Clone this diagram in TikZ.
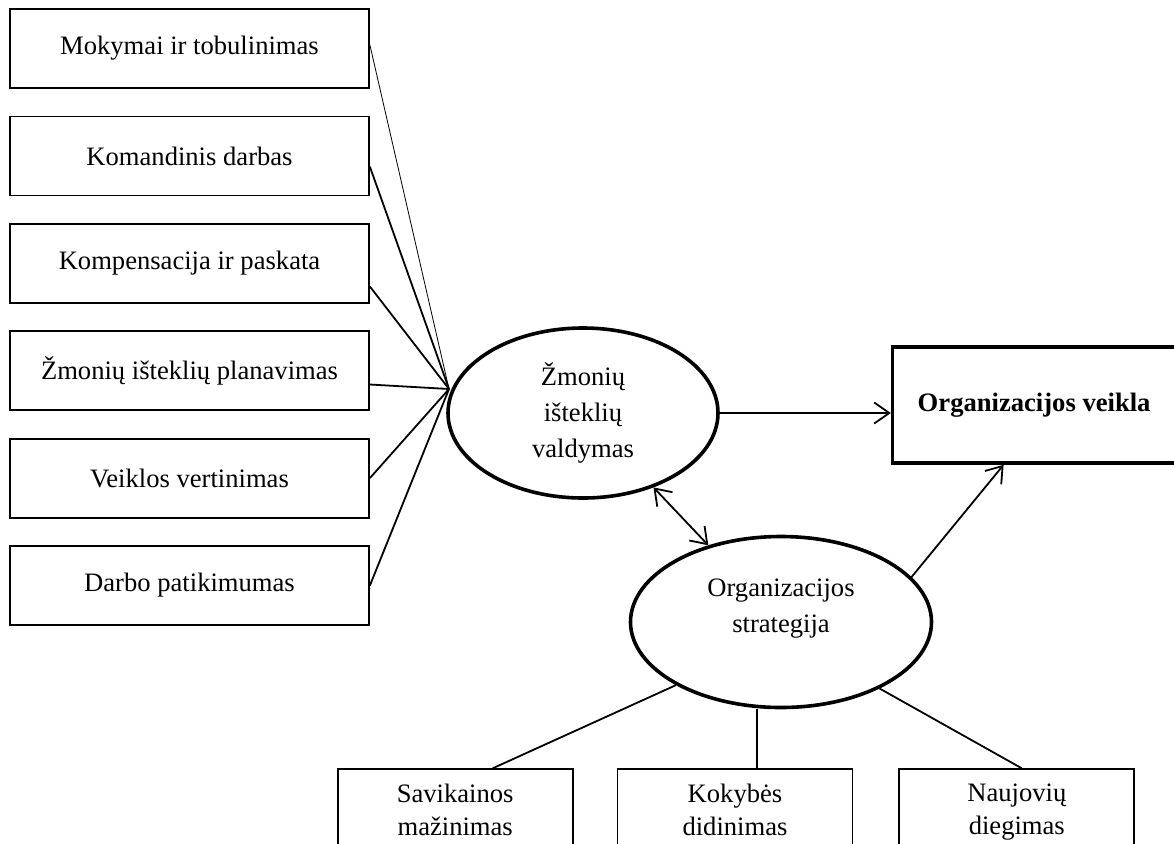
\documentclass[tikz,border=0pt]{standalone}
\usepackage{fontspec}
\setmainfont{Liberation Serif}
\usetikzlibrary{shapes,arrows.meta,positioning,calc}

\begin{document}
\begin{tikzpicture}[
    x=0.5pt, y=-0.5pt,
    node distance=13.3pt and 21.5pt,
    every node/.style={font=\fontsize{13.3}{18}\selectfont},
    factor/.style={rectangle, draw, line width=0.9pt, minimum width=179.5pt, minimum height=39.5pt, inner sep=0pt},
    core/.style={ellipse, draw, line width=1.8pt, minimum width=135pt, minimum height=85pt, align=center, inner sep=0pt},
    result/.style={rectangle, draw, line width=1.8pt, minimum width=141.5pt, minimum height=58pt, font=\fontsize{13.3}{18}\selectfont\bfseries},
    goal/.style={rectangle, draw, line width=0.9pt, minimum width=117.5pt, align=center, inner xsep=4pt, inner ysep=7.5pt, text depth=30pt, font=\fontsize{13.3}{16.5}\selectfont},
    link/.style={line width=0.9pt},
    arrow/.style={-{Straight Barb[length=7.5pt,width=10.5pt]}, line width=0.9pt},
    twoway/.style={{Straight Barb[length=7.5pt,width=10.5pt]}-{Straight Barb[length=7.5pt,width=10.5pt]}, line width=0.9pt}
]
\useasboundingbox (0,0) rectangle (1174,843);
\clip (0,0) rectangle (1174,843);

% Left column of HR practices
\node[factor] (train) at (189.5,48.5) {Mokymai ir tobulinimas};
\node[factor, below=of train] (team) {Komandinis darbas};
\node[factor, below=of team] (reward) {Kompensacija ir paskata};
\node[factor, below=of reward] (plan) {Žmonių išteklių planavimas};
\node[factor, below=of plan] (appraisal) {Veiklos vertinimas};
\node[factor, below=of appraisal] (security) {Darbo patikimumas};

% Centre
\node[core] (hrm) at (583,413) {Žmonių\\išteklių\\valdymas};
\node[result, right=85.5pt of hrm, yshift=4pt] (perf) {Organizacijos veikla};
\node[core, minimum width=150.5pt, minimum height=85.5pt] (strat) at (781,622) {};
\node[align=center, yshift=6.5pt] (strattext) at (strat) {Organizacijos\\strategija};

% Strategy types
\node[goal, below=29.5pt of strat, xshift=-23pt] (quality) {Kokybės\\didinimas};
\node[goal, left=21.5pt of quality.north west, anchor=north east] (cost) {Savikainos\\mažinimas};
\node[goal, right=22.5pt of quality.north east, anchor=north west] (innov) {Naujovių\\diegimas};

\coordinate (hub) at (449,389);

% Lines to the hub
\draw[link, line width=0.4pt] ([yshift=1.75pt]train.east) -- (hub);
\draw[link] ([yshift=-5.4pt]team.east) -- (hub);
\draw[link] ([yshift=-11.6pt]reward.east) -- (hub);
\draw[link] ([yshift=-6.9pt]plan.east) -- (hub);
\draw[link] (appraisal.east) -- (hub);
\draw[link] (security.east) -- (hub);

% Arrows
\draw[arrow] (hrm.east) -- (hrm.east -| perf.west);
\draw[arrow] (strat.19) -- ([xshift=-15.25pt]perf.south);
\draw[twoway] (hrm) -- (strat);

% Strategy links
\draw[link] (strat.211) -- ([xshift=18.75pt]cost.north);
\draw[link] ([xshift=11pt]quality.north) -- ([xshift=11pt]quality.north |- strat.south);
\draw[link] (strat.326) -- ([xshift=2.5pt]innov.north);

\end{tikzpicture}
\end{document}
